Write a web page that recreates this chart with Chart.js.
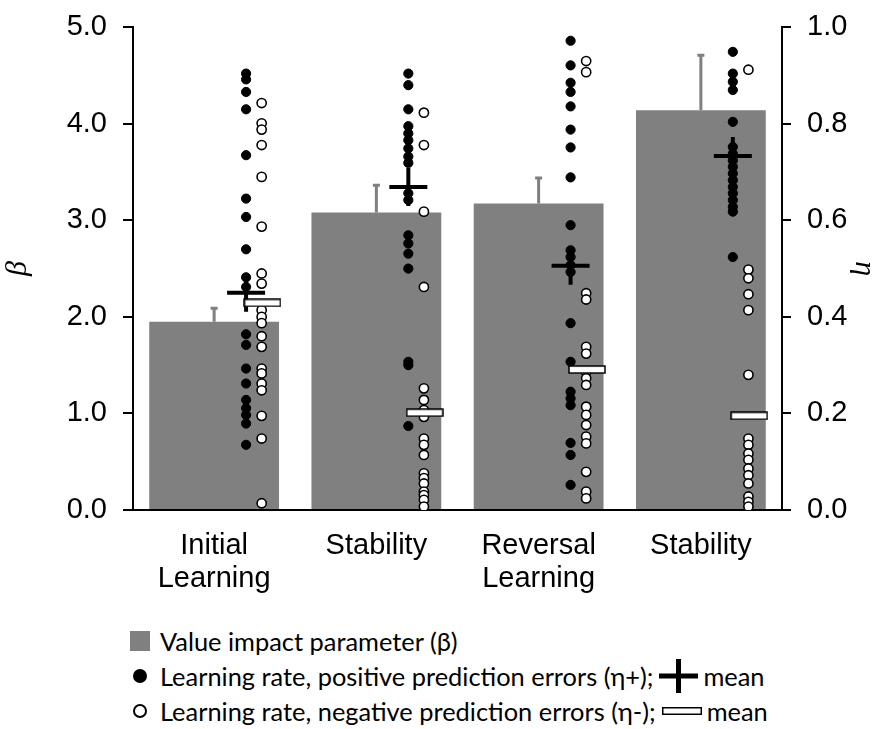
<!DOCTYPE html>
<html>
<head>
<meta charset="utf-8">
<script src="https://cdn.jsdelivr.net/npm/chart.js@4.4.0/dist/chart.umd.min.js"></script>
<style>
body { margin: 0; background: #fff; }
#wrap { position: relative; width: 882px; height: 729px; overflow: hidden; }
#chart { position: absolute; left: 0; top: -5px; }
.row { position: absolute; left: 120px; height: 34px; display: flex; align-items: center;
  font-family: Lato, "Open Sans", sans-serif; font-size: 25.4px; color: #000; white-space: nowrap; }
.ic { width: 40px; display: flex; justify-content: center; }
.sym { margin: 0 5px 0 6px; display: flex; }
</style>
</head>
<body>
<div id="wrap">
  <canvas id="chart" width="882" height="615"></canvas>
  <div class="row" style="top:624px">
    <span class="ic"><svg width="20" height="20"><rect x="0" y="0" width="20" height="20" fill="#808080"/></svg></span>
    <span>Value impact parameter (β)</span>
  </div>
  <div class="row" style="top:659px">
    <span class="ic"><svg width="16" height="16"><circle cx="8" cy="8" r="7" fill="#000"/></svg></span>
    <span>Learning rate, positive prediction errors (η+);</span>
    <span class="sym"><svg width="39" height="34"><path d="M0 17 H39 M19.5 0 V34" stroke="#000" stroke-width="5"/></svg></span>
    <span>mean</span>
  </div>
  <div class="row" style="top:694px">
    <span class="ic"><svg width="16" height="16"><circle cx="8" cy="8" r="6" fill="#fff" stroke="#000" stroke-width="2"/></svg></span>
    <span>Learning rate, negative prediction errors (η-);</span>
    <span class="sym"><svg width="40" height="8"><rect x="0.75" y="0.75" width="38.5" height="6.5" fill="#fff" stroke="#000" stroke-width="1.5"/></svg></span>
    <span>mean</span>
  </div>
</div>
<script>
// categories and bar values (beta, left axis)
const categories = [['Initial', 'Learning'], 'Stability', ['Reversal', 'Learning'], 'Stability'];
const betaValues = [1.95, 3.08, 3.175, 4.14];
const betaErrTop = [2.10, 3.375, 3.45, 4.72];

// learning rates for positive prediction errors (eta+, right axis)
const posInitial = [0.904, 0.892, 0.866, 0.830, 0.735, 0.645, 0.607, 0.540, 0.482, 0.462, 0.364, 0.342, 0.293, 0.262, 0.228, 0.211, 0.197, 0.179, 0.135];
const posStability1 = [0.904, 0.880, 0.830, 0.795, 0.780, 0.766, 0.749, 0.732, 0.719, 0.656, 0.642, 0.569, 0.552, 0.531, 0.500, 0.307, 0.300, 0.174];
const posReversal = [0.972, 0.921, 0.885, 0.866, 0.836, 0.788, 0.751, 0.689, 0.590, 0.538, 0.524, 0.507, 0.493, 0.387, 0.307, 0.245, 0.231, 0.217, 0.139, 0.114, 0.052];
const posStability2 = [0.949, 0.904, 0.887, 0.870, 0.804, 0.752, 0.738, 0.724, 0.711, 0.697, 0.683, 0.669, 0.656, 0.642, 0.628, 0.618, 0.524];

// learning rates for negative prediction errors (eta-)
const negInitial = [0.843, 0.801, 0.788, 0.756, 0.690, 0.587, 0.490, 0.469, 0.414, 0.400, 0.387, 0.360, 0.338, 0.293, 0.283, 0.262, 0.248, 0.195, 0.148, 0.014];
const negStability1 = [0.823, 0.756, 0.618, 0.462, 0.252, 0.228, 0.207, 0.193, 0.148, 0.135, 0.114, 0.076, 0.066, 0.055, 0.038, 0.031, 0.021, 0.007];
const negReversal = [0.930, 0.907, 0.449, 0.436, 0.338, 0.324, 0.286, 0.273, 0.259, 0.214, 0.197, 0.176, 0.152, 0.138, 0.079, 0.038, 0.024];
const negStability2 = [0.912, 0.498, 0.480, 0.447, 0.414, 0.280, 0.148, 0.135, 0.117, 0.104, 0.086, 0.072, 0.055, 0.028, 0.017, 0.007];

// group means
const posMean = [0.450, 0.669, 0.506, 0.7335];
const negMean = [0.429, 0.2015, 0.291, 0.195];

const posGroups = [posInitial, posStability1, posReversal, posStability2];
const negGroups = [negInitial, negStability1, negReversal, negStability2];

// dot columns sit to the right of each bar centre (in category units)
const POS_OFF = 0.197;
const NEG_OFF = 0.293;

function toPoints(groups, off) {
  let out = [];
  groups.forEach(function (g, i) {
    g.forEach(function (v) { out.push({ x: i + off, y: v }); });
  });
  return out;
}
function offsetPoints(vals, off) {
  return vals.map(function (v, i) { return { x: i + off, y: v }; });
}

// white bar marker for eta- mean
const negMark = document.createElement('canvas');
negMark.width = 38; negMark.height = 9;
(function () {
  const c = negMark.getContext('2d');
  c.fillStyle = '#fff';
  c.fillRect(1, 1, 36, 7);
  c.strokeStyle = '#000';
  c.lineWidth = 1.5;
  c.strokeRect(1, 1, 36, 7);
})();

// upper error bars drawn right after the bar dataset
const errorBars = {
  id: 'errorBars',
  afterDatasetDraw(chart, args) {
    if (args.index !== 0) return;
    const ctx = chart.ctx;
    const meta = chart.getDatasetMeta(0);
    const y = chart.scales.y;
    ctx.save();
    ctx.strokeStyle = '#808080';
    ctx.lineWidth = 3;
    meta.data.forEach(function (bar, i) {
      const top = y.getPixelForValue(betaErrTop[i]);
      ctx.beginPath();
      ctx.moveTo(bar.x, bar.y);
      ctx.lineTo(bar.x, top);
      ctx.moveTo(bar.x - 3.5, top + 1);
      ctx.lineTo(bar.x + 3.5, top + 1);
      ctx.stroke();
    });
    ctx.restore();
  }
};

const tickFont = { family: '"Liberation Sans", Arial, sans-serif', size: 29, lineHeight: 1.12 };

const config = {
  type: 'bar',
  data: {
    datasets: [
      {
        label: 'Value impact parameter (β)',
        data: offsetPoints(betaValues, 0),
        backgroundColor: '#808080',
        grouped: false,
        barPercentage: 0.8,
        categoryPercentage: 1.0,
        yAxisID: 'y',
        order: 10
      },
      {
        type: 'scatter',
        label: 'η-',
        data: toPoints(negGroups, NEG_OFF),
        yAxisID: 'y2',
        pointRadius: 4.6,
        pointBackgroundColor: '#fff',
        pointBorderColor: '#000',
        pointBorderWidth: 1.6,
        order: 5
      },
      {
        type: 'scatter',
        label: 'η+',
        data: toPoints(posGroups, POS_OFF),
        yAxisID: 'y2',
        pointRadius: 4.6,
        pointBackgroundColor: '#000',
        pointBorderColor: '#000',
        pointBorderWidth: 1,
        order: 4
      },
      {
        type: 'scatter',
        label: 'η+ mean',
        data: offsetPoints(posMean, POS_OFF),
        yAxisID: 'y2',
        pointStyle: 'cross',
        pointRadius: 19,
        pointBorderColor: '#000',
        pointBorderWidth: 4,
        order: 2
      },
      {
        type: 'scatter',
        label: 'η- mean',
        data: offsetPoints(negMean, NEG_OFF + 0.005),
        yAxisID: 'y2',
        pointStyle: negMark,
        order: 1
      }
    ]
  },
  options: {
    responsive: false,
    animation: false,
    layout: { padding: { top: 22, left: 0, right: 0, bottom: 0 } },
    plugins: {
      legend: { display: false },
      tooltip: { enabled: false }
    },
    scales: {
      x: {
        type: 'linear',
        min: -0.5,
        max: 3.5,
        offset: false,
        grid: { display: false, drawTicks: false, offset: false },
        border: { display: true, color: '#000', width: 2 },
        ticks: { color: '#000', font: tickFont, padding: 20, maxRotation: 0, autoSkip: false,
          callback: function (v) { return categories[v] !== undefined ? categories[v] : ''; } },
        afterBuildTicks: function (s) { s.ticks = categories.map(function (c, i) { return { value: i }; }); },
        afterFit: function (s) { s.height = 100; }
      },
      y: {
        position: 'left',
        min: 0,
        max: 5,
        grid: { display: true, drawOnChartArea: false, drawTicks: true, tickLength: 10, color: '#000', lineWidth: 2 },
        border: { display: true, color: '#000', width: 2 },
        ticks: { stepSize: 1, color: '#000', font: tickFont, padding: 16,
          callback: function (v) { return v.toFixed(1); } },
        title: { display: true, text: 'β', color: '#000',
          font: { family: '"Liberation Serif", serif', style: 'italic', size: 30 }, padding: { top: 0, bottom: 4 } },
        afterFit: function (s) { s.width = 133; }
      },
      y2: {
        position: 'right',
        min: 0,
        max: 1,
        grid: { display: true, drawOnChartArea: false, drawTicks: true, tickLength: 9, color: '#000', lineWidth: 2 },
        border: { display: true, color: '#000', width: 2 },
        ticks: { stepSize: 0.2, color: '#000', font: tickFont, padding: 16,
          callback: function (v) { return v.toFixed(1); } },
        title: { display: true, text: 'η', color: '#000',
          font: { family: '"Liberation Serif", serif', style: 'italic', size: 30 }, padding: { top: 0, bottom: 0 } },
        afterFit: function (s) { s.width = 100; }
      }
    }
  },
  plugins: [errorBars]
};

const myChart = new Chart(document.getElementById('chart'), config);
</script>
</body>
</html>
